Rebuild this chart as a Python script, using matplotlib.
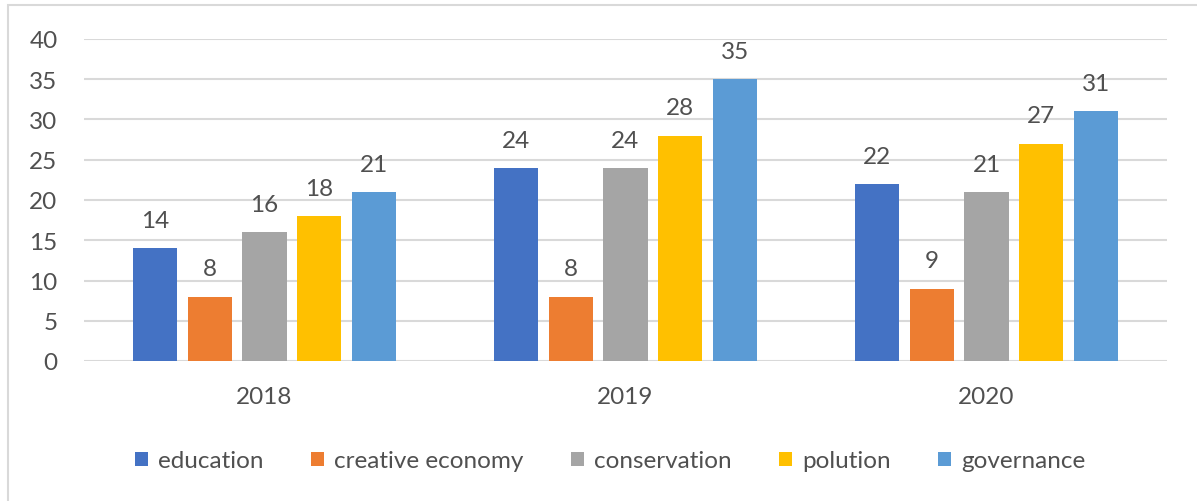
import numpy as np
import matplotlib
matplotlib.use('Agg')
from matplotlib import pyplot as plt
from matplotlib.patches import Rectangle, Patch

plt.rcParams['font.family'] = ['Lato', 'DejaVu Sans']

years = ['2018', '2019', '2020']
series = ['education', 'creative economy', 'conservation', 'polution', 'governance']
education = [14, 24, 22]
creative_economy = [8, 8, 9]
conservation = [16, 24, 21]
polution = [18, 28, 27]
governance = [21, 35, 31]
colors = ['#4472C4', '#ED7D31', '#A5A5A5', '#FFC000', '#5B9BD5']

values = [education, creative_economy, conservation, polution, governance]
text_color = '#505050'
fs = 17.5

fig = plt.figure(figsize=(11.97, 5.02), dpi=100)
ax = fig.add_axes([84 / 1197, 1 - 362 / 502, (1167 - 84) / 1197, (362 - 40) / 502])

x = np.arange(len(years))
width = 0.122
step = 0.152
for i, vals in enumerate(values):
    pos = x + (i - 2) * step
    ax.bar(pos, vals, width, color=colors[i], zorder=3)
    for p, v in zip(pos, vals):
        ax.annotate(str(v), (p, v), xytext=(0, 20), textcoords='offset points',
                    ha='center', va='center', fontsize=fs, color=text_color)

ax.set_xlim(-0.5, 2.5)
ax.set_ylim(0, 40)
ax.set_yticks(range(0, 41, 5))
ax.set_xticks(x)
ax.set_xticklabels(years)
ax.grid(axis='y', color='#D9D9D9', linewidth=1.5, zorder=0)
ax.tick_params(length=0, labelsize=fs, labelcolor=text_color)
ax.tick_params(axis='y', pad=19)
ax.tick_params(axis='x', pad=18)
for s in ax.spines.values():
    s.set_visible(False)

handles = [Patch(facecolor=c, edgecolor='none') for c in colors]
fig.legend(handles, series, loc='center', bbox_to_anchor=(610 / 1197, 1 - 462 / 502),
           ncol=5, frameon=False, fontsize=fs, labelcolor=text_color,
           handlelength=0.55, handleheight=0.55, handletextpad=0.4, columnspacing=1.95)

# chart area border
fig.patches.append(Rectangle((8 / 1197, -0.1), 1.2, 1.1 - 6 / 502, transform=fig.transFigure,
                             fill=False, edgecolor='#D9D9D9', linewidth=1.5))

plt.savefig('out.png')
